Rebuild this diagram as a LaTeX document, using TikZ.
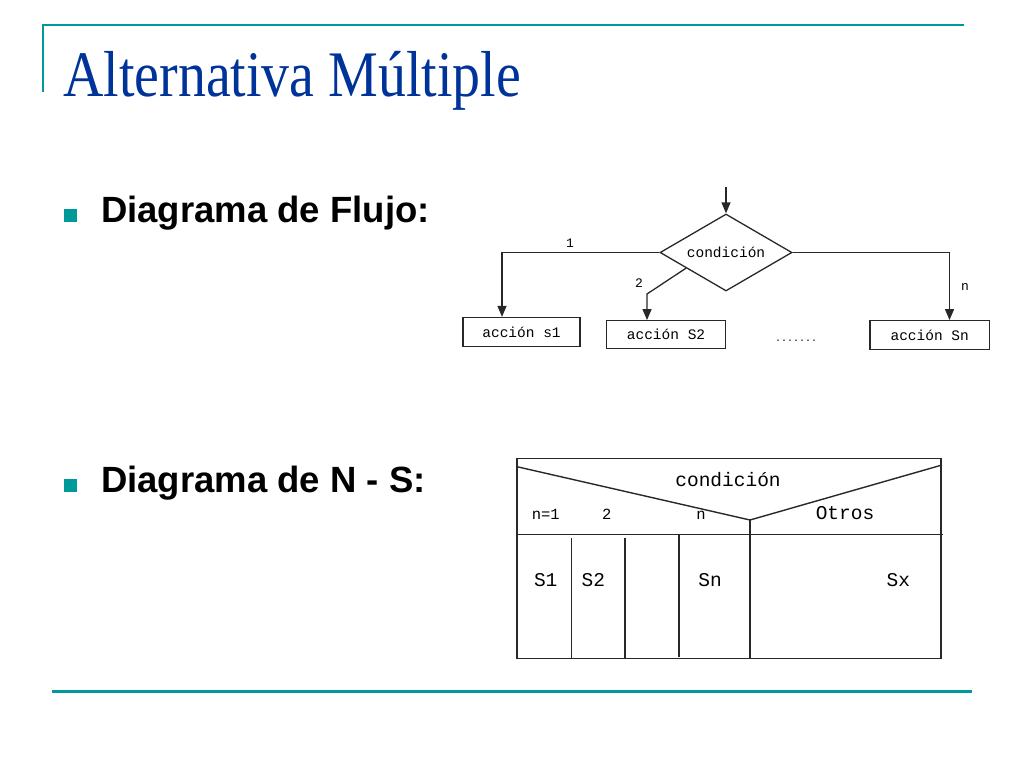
\documentclass[tikz,border=0pt]{standalone}
\usepackage{fontspec}
\setmainfont{Liberation Serif}
\newfontfamily\bulletfont{Liberation Sans}
\newfontfamily\monofont{Liberation Mono}
\usetikzlibrary{shapes.geometric,arrows.meta,calc}
\definecolor{tealline}{RGB}{0,153,153}
\definecolor{titleblue}{RGB}{0,51,153}
\definecolor{ink}{RGB}{40,40,40}
\tikzset{
  txt/.style={inner sep=0pt},
  btext/.style={txt,anchor=base west,font=\bulletfont\bfseries\fontsize{36.5}{40}\selectfont},
  bsq/.style={fill=tealline,draw=none,minimum size=13pt,inner sep=0pt},
  fbox/.style={draw=ink,line width=1.3pt,inner sep=0pt,font=\monofont\fontsize{14.5}{16}\selectfont},
  arr/.style={draw=ink,line width=1.3pt,-{Triangle[length=11pt,width=9pt]}},
  lbl/.style={txt,font=\monofont\fontsize{13}{14}\selectfont},
  ns/.style={draw=ink,line width=1.4pt},
  nsbig/.style={txt,font=\monofont\fontsize{19.5}{21}\selectfont},
  nssmall/.style={txt,font=\monofont\fontsize{15.5}{17}\selectfont},
}
\begin{document}
\begin{tikzpicture}[x=1pt,y=-1pt]
\useasboundingbox (0,0) rectangle (1024,768);
% frame lines
\draw[tealline,line width=2pt] (42,25) -- (964,25);
\draw[tealline,line width=2pt] (43,25) -- (43,92);
\draw[tealline,line width=3pt] (52,691) -- (972,691);
% title
\node[txt,anchor=base west,text=titleblue] (title) at (63,96)
  {\scalebox{0.86}[1]{\fontsize{65}{65}\selectfont Alternativa Múltiple}};
% bullets
\node[bsq] (b1) at (70,215.5) {};
\node[btext] (t1) at (101,222) {Diagrama de Flujo:};
\node[bsq] (b2) at (70,485.5) {};
\node[btext] (t2) at (101,492) {Diagrama de N - S:};
% flow chart
\node[diamond,draw=ink,line width=1.3pt,minimum width=132pt,minimum height=77pt,aspect=1.71,inner sep=0pt,
      font=\monofont\fontsize{14.5}{16}\selectfont] (cond) at (726,252.5) {condición};
\coordinate (top) at (726,187);
\draw[arr] (top) -- (cond.north);
\node[fbox,minimum width=117pt,minimum height=29pt] (s1) at (521.5,332) {acción s1};
\node[fbox,minimum width=118.6pt,minimum height=27.6pt] (s2) at (666,334.5) {acción S2};
\node[fbox,minimum width=119.3pt,minimum height=28.6pt] (sn) at (929.7,335) {acción Sn};
\coordinate (k1) at (502,252.5);
\draw[arr] (cond.west) -- (k1) -- (k1 |- s1.north);
\coordinate (k2) at (647,294);
\draw[arr] ($(cond.west)!0.4!(cond.south)$) -- (k2) -- (k2 |- s2.north);
\coordinate (kn) at (949.5,252.5);
\draw[arr] (cond.east) -- (kn) -- (kn |- sn.north);
\node[lbl] (l1) at (570,243) {1};
\node[lbl] (l2) at (639,283) {2};
\node[lbl] (ln) at (965,287) {n};
\node[txt,anchor=base,font=\monofont\fontsize{10}{12}\selectfont] (dots) at (796,341) {.......};
% N-S diagram
\draw[ns] (517,458.5) rectangle (941,658.5);
\draw[ns] (517,534.5) -- (943,534.5);
\coordinate (vx) at (750,520);
\draw[ns] (517,466.7) -- (vx) -- (942,465);
\draw[ns] (vx) -- (750,658.5);
\draw[ns] (571.7,538) -- (571.7,658.5);
\draw[ns] (625,538) -- (625,658.5);
\draw[ns] (679,534.5) -- (679,657);
\node[nsbig] (nc) at (728,479.5) {condición};
\node[nssmall] (n1) at (545.7,514.5) {n=1};
\node[nssmall] (n2) at (606.7,514.5) {2};
\node[nssmall] (nn) at (701,515.5) {n};
\node[nsbig] (ot) at (845,513) {Otros};
\node[nsbig] (S1) at (545.7,580) {S1};
\node[nsbig] (S2) at (593.3,580) {S2};
\node[nsbig] (Sn) at (710,580) {Sn};
\node[nsbig] (Sx) at (898.3,580) {Sx};
\end{tikzpicture}
\end{document}
